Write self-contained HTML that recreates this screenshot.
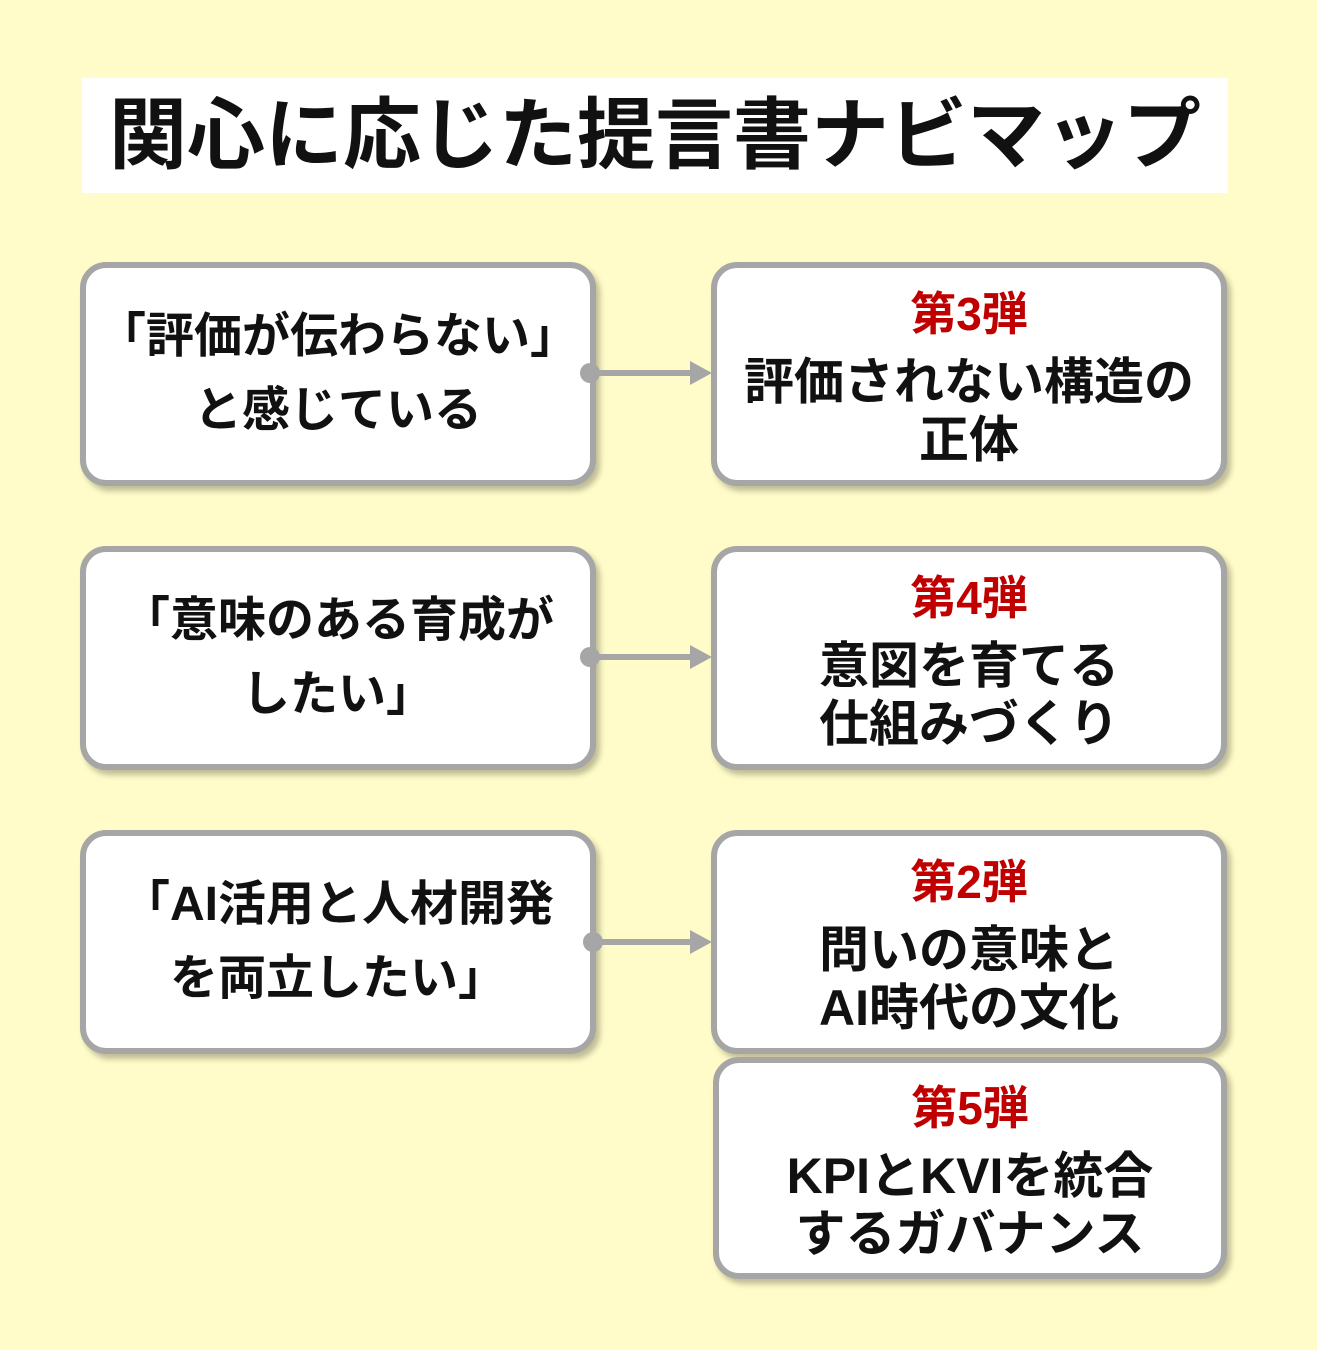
<!DOCTYPE html>
<html><head><meta charset="utf-8"><style>
body{margin:0;width:1317px;height:1350px;background:#fffcc9;font-family:"Liberation Sans","Noto Sans CJK JP",sans-serif;position:relative;overflow:hidden}
.t{position:absolute;left:82px;top:78px;width:1146px;height:115px;background:#fff;font-weight:bold;font-size:78px;line-height:115px;text-align:center;color:#111}
.b{position:absolute;box-sizing:border-box;background:#fff;border:6px solid #a6a6a6;border-radius:26px;box-shadow:4px 5px 6px rgba(0,0,0,0.25);display:flex;flex-direction:column;justify-content:center;align-items:center;text-align:center;font-weight:bold;color:#111;white-space:nowrap}
.l{font-size:48px;line-height:74px}
.r{font-size:50px;line-height:58px}
.r .n{color:#c00000;font-size:46px;line-height:70px;margin-bottom:4px}
svg{position:absolute;left:0;top:0}
</style></head><body>
<div class="t">関心に応じた提言書ナビマップ</div>

<div class="b l" style="left:80px;top:262px;width:516px;height:224px">「評価が伝わらない」<br>と感じている</div>
<div class="b r" style="left:711px;top:262px;width:516px;height:224px"><div class="n">第3弾</div>評価されない構造の<br>正体</div>

<div class="b l" style="left:80px;top:546px;width:516px;height:224px">「意味のある育成が<br>したい」</div>
<div class="b r" style="left:711px;top:546px;width:516px;height:224px"><div class="n">第4弾</div>意図を育てる<br>仕組みづくり</div>

<div class="b l" style="left:80px;top:830px;width:516px;height:224px">「AI活用と人材開発<br>を両立したい」</div>
<div class="b r" style="left:711px;top:830px;width:516px;height:224px"><div class="n">第2弾</div>問いの意味と<br>AI時代の文化</div>
<div class="b r" style="left:713px;top:1057px;width:514px;height:222px"><div class="n">第5弾</div>KPIとKVIを統合<br>するガバナンス</div>

<svg width="1317" height="1350">
<g fill="#a6a6a6" stroke="#a6a6a6">
<circle cx="590" cy="373" r="10" stroke="none"/><line x1="590" y1="373" x2="695" y2="373" stroke-width="6"/><polygon points="690,361 712,373 690,385" stroke="none"/>
<circle cx="590" cy="657" r="10" stroke="none"/><line x1="590" y1="657" x2="695" y2="657" stroke-width="6"/><polygon points="690,645 712,657 690,669" stroke="none"/>
<circle cx="593" cy="942" r="10" stroke="none"/><line x1="593" y1="942" x2="695" y2="942" stroke-width="6"/><polygon points="690,930 712,942 690,954" stroke="none"/>
</g></svg>
</body></html>
